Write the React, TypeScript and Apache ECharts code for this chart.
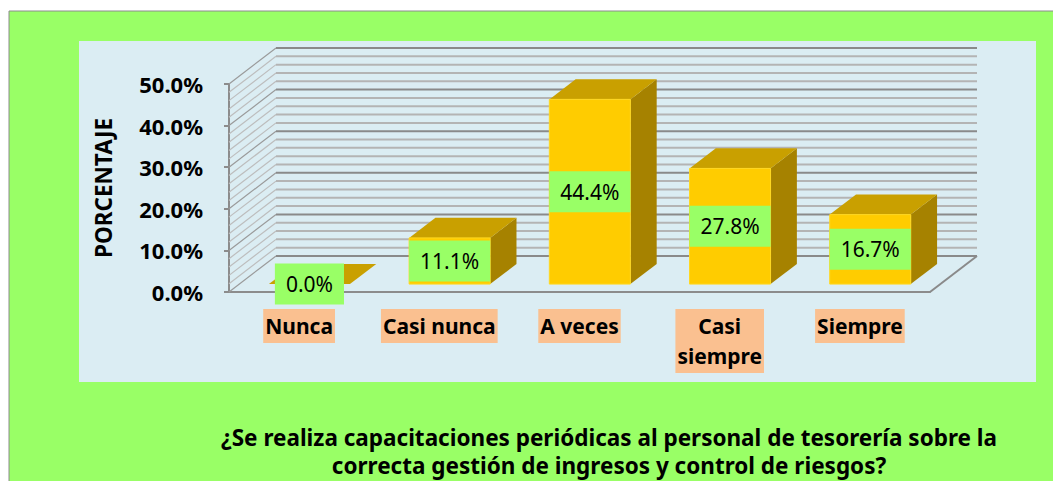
import React, { useEffect, useRef } from "react";
import * as echarts from "echarts";

const categories = ["Nunca", "Casi nunca", "A veces", "Casi siempre", "Siempre"];
const values = [0.0, 0.111, 0.444, 0.278, 0.167];
const yTicks = { min: 0, max: 0.5, interval: 0.1, minorStep: 0.02 };
const yAxisName = "PORCENTAJE";
const titleText =
  "¿Se realiza capacitaciones periódicas al personal de tesorería sobre la\ncorrecta gestión de ingresos y control de riesgos?";

const FONT = "'Noto Sans', 'Open Sans', sans-serif";
const DEPTH = [47, -36];
const F0 = 0.22;
const F1 = 0.78;
const BAR_RATIO = 0.578;

const fmtPct = (v: number) => (v * 100).toFixed(1) + "%";

export default function App() {
  const ref = useRef<HTMLDivElement>(null);
  useEffect(() => {
    if (!ref.current) return;
    const chart = echarts.init(ref.current, null, { renderer: "svg" });

    const levels: { v: number; major: boolean }[] = [];
    const nSteps = Math.round((yTicks.max - yTicks.min) / yTicks.minorStep);
    const majorEvery = Math.round(yTicks.interval / yTicks.minorStep);
    for (let k = 0; k <= nSteps; k++) {
      levels.push({ v: yTicks.min + k * yTicks.minorStep, major: k % majorEvery === 0 });
    }

    const option: any = {
      animation: false,
      backgroundColor: "#ffffff",
      graphic: [
        {
          type: "rect",
          z: -10,
          shape: { x: 9, y: 11, width: 1060, height: 480 },
          style: { fill: "#99ff66", stroke: "#8c8c8c", lineWidth: 1 },
        },
        {
          type: "rect",
          z: -9,
          shape: { x: 79, y: 41, width: 957, height: 341 },
          style: { fill: "#dbedf3" },
        },
      ],
      title: {
        text: titleText,
        left: 604,
        top: 418,
        textAlign: "center",
        textStyle: {
          fontFamily: FONT,
          fontWeight: "bold",
          fontSize: 22.5,
          lineHeight: 28,
          color: "#000",
        },
      },
      grid: { left: 229, top: 84, width: 701, height: 208 },
      xAxis: {
        type: "category",
        data: categories,
        axisLine: { show: true, lineStyle: { color: "#8c8c8c", width: 2 } },
        axisTick: { show: false },
        splitLine: { show: false },
        axisLabel: {
          margin: 17,
          interval: 0,
          formatter: (v: string) => (v === "Casi siempre" ? "Casi\nsiempre" : v),
          fontFamily: FONT,
          fontWeight: "bold",
          fontSize: 21,
          lineHeight: 30,
          color: "#000",
          backgroundColor: "#fac090",
          padding: [2, 2],
        },
      },
      yAxis: {
        type: "value",
        min: yTicks.min,
        max: yTicks.max,
        interval: yTicks.interval,
        name: yAxisName,
        nameLocation: "middle",
        nameRotate: 90,
        nameGap: 114,
        nameTextStyle: {
          fontFamily: FONT,
          fontWeight: "bold",
          fontSize: 22.5,
          color: "#000",
        },
        axisLine: { show: true, lineStyle: { color: "#8c8c8c", width: 2 } },
        axisTick: { show: true, length: 5, lineStyle: { color: "#8c8c8c", width: 2 } },
        splitLine: { show: false },
        axisLabel: {
          margin: 26,
          formatter: (v: number) => fmtPct(v),
          fontFamily: FONT,
          fontWeight: "bold",
          fontSize: 22,
          color: "#000",
        },
      },
      series: [
        {
          type: "custom",
          name: "walls",
          z: 1,
          silent: true,
          data: [[0, 0]],
          renderItem: (params: any, api: any) => {
            const cs = params.coordSys;
            const left = cs.x;
            const right = cs.x + cs.width;
            const children: any[] = [];
            levels.forEach((lv) => {
              const y = api.coord([0, lv.v])[1];
              const color = lv.major ? "#8a8a8a" : "#b4b4b4";
              children.push({
                type: "line",
                shape: { x1: left, y1: y, x2: left + DEPTH[0], y2: y + DEPTH[1] },
                style: { stroke: lv.major ? "#9a9a9a" : "#bdbdbd", lineWidth: 1.2 },
              });
              children.push({
                type: "line",
                shape: { x1: left + DEPTH[0], y1: y + DEPTH[1], x2: right + DEPTH[0], y2: y + DEPTH[1] },
                style: { stroke: color, lineWidth: 2 },
              });
            });
            const y0 = api.coord([0, yTicks.min])[1];
            children.push({
              type: "line",
              shape: { x1: right, y1: y0, x2: right + DEPTH[0], y2: y0 + DEPTH[1] },
              style: { stroke: "#8a8a8a", lineWidth: 2 },
            });
            return { type: "group", children };
          },
        },
        {
          type: "custom",
          name: "bars",
          z: 3,
          data: values.map((v, i) => [i, v]),
          renderItem: (params: any, api: any) => {
            const i = api.value(0);
            const v = api.value(1);
            const base = api.coord([i, 0]);
            const top = api.coord([i, v]);
            const band = api.size([1, 0])[0];
            const w = band * BAR_RATIO;
            const cx = base[0] + F0 * DEPTH[0];
            const yb = base[1] + F0 * DEPTH[1];
            const h = base[1] - top[1];
            const yt = yb - h;
            const xl = cx - w / 2;
            const xr = cx + w / 2;
            const ddx = (F1 - F0) * DEPTH[0];
            const ddy = (F1 - F0) * DEPTH[1];
            const children: any[] = [];
            children.push({
              type: "polygon",
              shape: { points: [[xr, yt], [xr + ddx, yt + ddy], [xr + ddx, yb + ddy], [xr, yb]] },
              style: { fill: "#a68200" },
            });
            children.push({
              type: "polygon",
              shape: { points: [[xl, yt], [xr, yt], [xr + ddx, yt + ddy], [xl + ddx, yt + ddy]] },
              style: { fill: "#c9a000" },
            });
            if (h > 0.5) {
              children.push({
                type: "rect",
                shape: { x: xl, y: yt, width: w, height: h },
                style: { fill: "#ffcc00", stroke: "#ffd820", lineWidth: 1 },
              });
            }
            children.push({
              type: "text",
              x: cx,
              y: (yt + yb) / 2,
              z2: 10,
              style: {
                text: fmtPct(v),
                align: "center",
                verticalAlign: "middle",
                fontFamily: FONT,
                fontSize: 21,
                fill: "#000",
                backgroundColor: "#99ff66",
                padding: [8, 11],
                lineHeight: 25,
              },
            });
            return { type: "group", children };
          },
        },
      ],
    };
    chart.setOption(option);
    return () => chart.dispose();
  }, []);
  return (
    <div
      ref={ref}
      style={{ position: "absolute", left: 0, top: 0, width: 1053, height: 481 }}
    />
  );
}
